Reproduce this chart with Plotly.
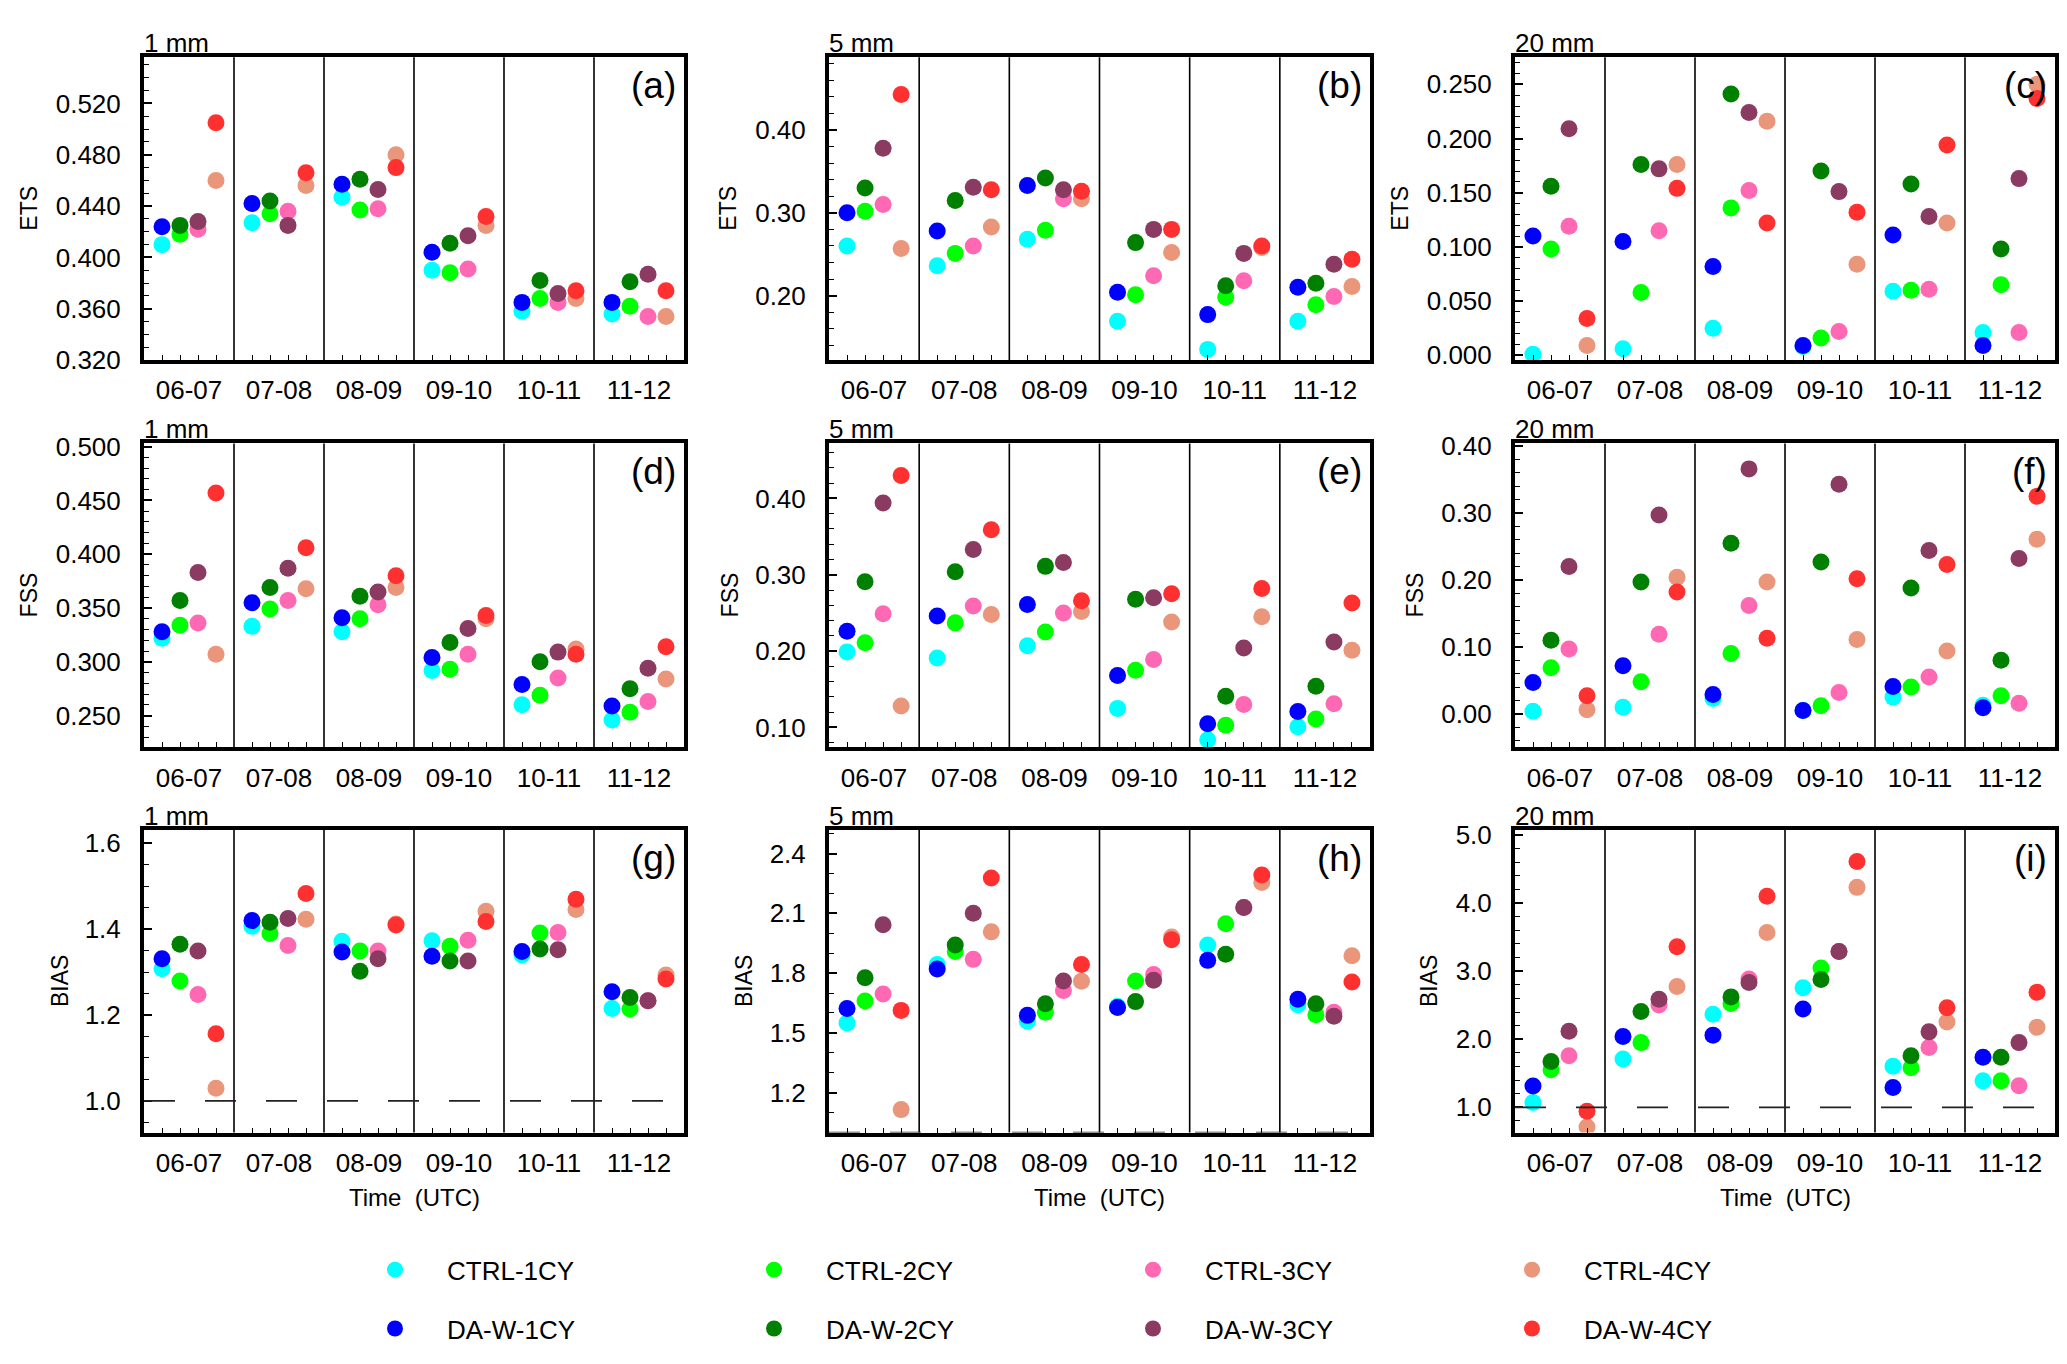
import plotly.graph_objects as go
from plotly.subplots import make_subplots

W, H = 2067, 1364

periods = ["06-07", "07-08", "08-09", "09-10", "10-11", "11-12"]
series = ["CTRL-1CY", "CTRL-2CY", "CTRL-3CY", "CTRL-4CY",
          "DA-W-1CY", "DA-W-2CY", "DA-W-3CY", "DA-W-4CY"]
colors = ["#00FFFF", "#00FF00", "#FF69B4", "#E9967A",
          "#0000FF", "#008000", "#8B3A62", "#FF3030"]

# ETS, 1 mm
ets_1mm = {
    "CTRL-1CY": [0.410, 0.427, 0.447, 0.390, 0.358, 0.356],
    "CTRL-2CY": [0.418, 0.434, 0.437, 0.388, 0.368, 0.362],
    "CTRL-3CY": [0.422, 0.436, 0.438, 0.391, 0.365, 0.354],
    "CTRL-4CY": [0.460, 0.456, 0.480, 0.425, 0.368, 0.354],
    "DA-W-1CY": [0.424, 0.442, 0.457, 0.404, 0.365, 0.365],
    "DA-W-2CY": [0.425, 0.444, 0.461, 0.411, 0.382, 0.381],
    "DA-W-3CY": [0.428, 0.425, 0.453, 0.417, 0.372, 0.387],
    "DA-W-4CY": [0.505, 0.466, 0.470, 0.432, 0.374, 0.374],
}
# ETS, 5 mm
ets_5mm = {
    "CTRL-1CY": [0.260, 0.236, 0.268, 0.169, 0.135, 0.169],
    "CTRL-2CY": [0.302, 0.251, 0.279, 0.201, 0.198, 0.189],
    "CTRL-3CY": [0.310, 0.260, 0.317, 0.224, 0.218, 0.199],
    "CTRL-4CY": [0.257, 0.283, 0.317, 0.252, 0.258, 0.211],
    "DA-W-1CY": [0.300, 0.278, 0.333, 0.204, 0.177, 0.210],
    "DA-W-2CY": [0.330, 0.315, 0.342, 0.264, 0.212, 0.215],
    "DA-W-3CY": [0.378, 0.331, 0.328, 0.280, 0.251, 0.238],
    "DA-W-4CY": [0.443, 0.328, 0.326, 0.280, 0.260, 0.244],
}
# ETS, 20 mm
ets_20mm = {
    "CTRL-1CY": [0.001, 0.006, 0.025, 0.008, 0.059, 0.021],
    "CTRL-2CY": [0.098, 0.058, 0.136, 0.016, 0.060, 0.065],
    "CTRL-3CY": [0.119, 0.115, 0.152, 0.022, 0.061, 0.021],
    "CTRL-4CY": [0.009, 0.176, 0.216, 0.084, 0.122, 0.250],
    "DA-W-1CY": [0.110, 0.105, 0.082, 0.009, 0.111, 0.009],
    "DA-W-2CY": [0.156, 0.176, 0.241, 0.170, 0.158, 0.098],
    "DA-W-3CY": [0.209, 0.172, 0.224, 0.151, 0.128, 0.163],
    "DA-W-4CY": [0.034, 0.154, 0.122, 0.132, 0.194, 0.237],
}
# FSS, 1 mm
fss_1mm = {
    "CTRL-1CY": [0.322, 0.333, 0.328, 0.292, 0.260, 0.246],
    "CTRL-2CY": [0.334, 0.349, 0.340, 0.293, 0.269, 0.253],
    "CTRL-3CY": [0.336, 0.357, 0.353, 0.307, 0.285, 0.263],
    "CTRL-4CY": [0.307, 0.368, 0.369, 0.340, 0.312, 0.284],
    "DA-W-1CY": [0.328, 0.355, 0.341, 0.304, 0.279, 0.259],
    "DA-W-2CY": [0.357, 0.369, 0.361, 0.318, 0.300, 0.275],
    "DA-W-3CY": [0.383, 0.387, 0.365, 0.331, 0.309, 0.294],
    "DA-W-4CY": [0.457, 0.406, 0.380, 0.343, 0.307, 0.314],
}
# FSS, 5 mm
fss_5mm = {
    "CTRL-1CY": [0.199, 0.191, 0.207, 0.125, 0.084, 0.101],
    "CTRL-2CY": [0.211, 0.237, 0.225, 0.175, 0.103, 0.111],
    "CTRL-3CY": [0.249, 0.259, 0.250, 0.189, 0.130, 0.131],
    "CTRL-4CY": [0.128, 0.248, 0.252, 0.238, 0.245, 0.201],
    "DA-W-1CY": [0.226, 0.246, 0.261, 0.168, 0.105, 0.121],
    "DA-W-2CY": [0.291, 0.304, 0.311, 0.268, 0.141, 0.154],
    "DA-W-3CY": [0.394, 0.333, 0.316, 0.270, 0.204, 0.212],
    "DA-W-4CY": [0.430, 0.359, 0.266, 0.275, 0.282, 0.263],
}
# FSS, 20 mm
fss_20mm = {
    "CTRL-1CY": [0.004, 0.010, 0.023, 0.005, 0.025, 0.013],
    "CTRL-2CY": [0.069, 0.048, 0.090, 0.012, 0.040, 0.027],
    "CTRL-3CY": [0.097, 0.119, 0.162, 0.032, 0.055, 0.016],
    "CTRL-4CY": [0.006, 0.204, 0.197, 0.111, 0.094, 0.261],
    "DA-W-1CY": [0.047, 0.072, 0.029, 0.005, 0.041, 0.009],
    "DA-W-2CY": [0.110, 0.197, 0.255, 0.227, 0.188, 0.080],
    "DA-W-3CY": [0.220, 0.297, 0.366, 0.343, 0.244, 0.232],
    "DA-W-4CY": [0.027, 0.182, 0.113, 0.202, 0.223, 0.325],
}
# BIAS, 1 mm
bias_1mm = {
    "CTRL-1CY": [1.308, 1.407, 1.372, 1.373, 1.340, 1.215],
    "CTRL-2CY": [1.279, 1.390, 1.349, 1.360, 1.391, 1.214],
    "CTRL-3CY": [1.248, 1.362, 1.349, 1.374, 1.392, 1.233],
    "CTRL-4CY": [1.029, 1.423, 1.412, 1.442, 1.446, 1.293],
    "DA-W-1CY": [1.331, 1.420, 1.347, 1.337, 1.348, 1.254],
    "DA-W-2CY": [1.365, 1.416, 1.302, 1.326, 1.354, 1.241],
    "DA-W-3CY": [1.349, 1.425, 1.331, 1.326, 1.352, 1.233],
    "DA-W-4CY": [1.156, 1.483, 1.410, 1.418, 1.470, 1.284],
}
# BIAS, 5 mm
bias_5mm = {
    "CTRL-1CY": [1.550, 1.843, 1.558, 1.632, 1.941, 1.641],
    "CTRL-2CY": [1.660, 1.909, 1.604, 1.761, 2.048, 1.591],
    "CTRL-3CY": [1.695, 1.869, 1.713, 1.793, 2.129, 1.604],
    "CTRL-4CY": [1.115, 2.007, 1.759, 1.981, 2.255, 1.887],
    "DA-W-1CY": [1.622, 1.821, 1.588, 1.627, 1.864, 1.669],
    "DA-W-2CY": [1.777, 1.941, 1.646, 1.657, 1.895, 1.646],
    "DA-W-3CY": [2.043, 2.101, 1.761, 1.764, 2.129, 1.583],
    "DA-W-4CY": [1.613, 2.277, 1.843, 1.968, 2.292, 1.756],
}
# BIAS, 20 mm
bias_20mm = {
    "CTRL-1CY": [1.072, 1.711, 2.369, 2.758, 1.605, 1.389],
    "CTRL-2CY": [1.552, 1.951, 2.527, 3.046, 1.581, 1.389],
    "CTRL-3CY": [1.759, 2.503, 2.887, 3.290, 1.879, 1.317],
    "CTRL-4CY": [0.712, 2.777, 3.569, 4.232, 2.253, 2.176],
    "DA-W-1CY": [1.312, 2.042, 2.061, 2.445, 1.293, 1.735],
    "DA-W-2CY": [1.672, 2.407, 2.623, 2.878, 1.759, 1.735],
    "DA-W-3CY": [2.119, 2.589, 2.834, 3.291, 2.109, 1.951],
    "DA-W-4CY": [0.942, 3.358, 4.102, 4.611, 2.465, 2.690],
}

FONT = "Liberation Sans, Arial, sans-serif"

# data, y range, major step, minor step, format, y label, threshold, letter, y label x (px)
panels = [
    (ets_1mm,   [0.320, 0.556], 0.04, 0.01, ".3f", "ETS",  "1 mm",  "(a)", 21),
    (ets_5mm,   [0.122, 0.488], 0.10, 0.02, ".2f", "ETS",  "5 mm",  "(b)", 720),
    (ets_20mm,  [-0.0045, 0.275], 0.05, 0.01, ".3f", "ETS", "20 mm", "(c)", 1392),
    (fss_1mm,   [0.2205, 0.503], 0.05, 0.01, ".3f", "FSS",  "1 mm",  "(d)", 21),
    (fss_5mm,   [0.074, 0.472], 0.10, 0.02, ".2f", "FSS",  "5 mm",  "(e)", 722),
    (fss_20mm,  [-0.05, 0.404], 0.10, 0.02, ".2f", "FSS",  "20 mm", "(f)", 1407),
    (bias_1mm,  [0.926, 1.632], 0.2, 0.05, ".1f", "BIAS", "1 mm",  "(g)", 52),
    (bias_5mm,  [1.0, 2.52],    0.3, 0.1,  ".1f", "BIAS", "5 mm",  "(h)", 736),
    (bias_20mm, [0.63, 5.08],   1.0, 0.2,  ".1f", "BIAS", "20 mm", "(i)", 1421),
]

col_px = [(136, 676), (821, 1362), (1507, 2047)]
row_px = [(38, 347), (432, 742), (826, 1135)]

fig = make_subplots(rows=3, cols=3)

# four slots inside each period: 1CY, 2CY, 3CY, 4CY
slot = {s: (i % 4) for i, s in enumerate(series)}
point_ticks = [g + 0.2 * (k + 1) for g in range(len(periods)) for k in range(4)]

for p, (data, yr, dt, mdt, fmt, ylab, thr, letter, ylab_x) in enumerate(panels):
    r, c = p // 3 + 1, p % 3 + 1
    x0, x1 = col_px[c - 1]
    y0, y1 = row_px[r - 1]

    for name, color in zip(series, colors):
        xs = [g + 0.2 * (slot[name] + 1) for g in range(len(periods))]
        fig.add_trace(go.Scatter(
            x=xs, y=data[name], mode="markers", name=name,
            marker=dict(size=17, color=color),
            legend="legend" if name.startswith("CTRL") else "legend2",
            showlegend=(p == 0), hovertemplate=name + ": %{y}<extra></extra>",
        ), row=r, col=c)

    fig.update_xaxes(
        domain=[x0 / W, x1 / W], range=[0, 6],
        tickvals=[g + 0.5 for g in range(6)], ticktext=periods,
        ticks="", tickangle=0, showgrid=False, zeroline=False,
        showline=True, linewidth=4, linecolor="black", mirror=True,
        tickfont=dict(size=26, family=FONT, color="black"),
        ticklabelstandoff=4,
        minor=dict(tickvals=point_ticks, ticks="inside", ticklen=5,
                   tickwidth=1.3, tickcolor="black", showgrid=False),
        row=r, col=c)
    fig.update_yaxes(
        domain=[1 - y1 / H, 1 - y0 / H], range=yr, tick0=0, dtick=dt,
        tickformat=fmt, ticks="inside", ticklen=8, tickwidth=1.5,
        tickcolor="black", showgrid=False, zeroline=False,
        showline=True, linewidth=4, linecolor="black", mirror=True,
        tickfont=dict(size=26, family=FONT, color="black"),
        ticklabelstandoff=14,
        minor=dict(dtick=mdt, tick0=0, ticks="inside", ticklen=5,
                   tickwidth=1.3, tickcolor="black", showgrid=False),
        row=r, col=c)

    sub = fig.get_subplot(r, c)
    xref = sub.xaxis.plotly_name.replace("axis", "")
    yref = sub.yaxis.plotly_name.replace("axis", "")

    # separators between periods
    for g in range(1, 6):
        fig.add_shape(type="line", xref=xref, yref=yref + " domain",
                      x0=g, x1=g, y0=0, y1=1, layer="below",
                      line=dict(color="black", width=1.6))
    # BIAS = 1 reference line
    if ylab == "BIAS":
        fig.add_shape(type="line", xref=xref + " domain", yref=yref,
                      x0=0, x1=1, y0=1.0, y1=1.0, layer="above",
                      line=dict(color="#222222", width=1.8, dash="31px,30px"))

    fig.add_annotation(text=letter, xref="paper", yref="paper",
                       x=(x1 - 6) / W, y=1 - (y0 + 6) / H,
                       xanchor="right", yanchor="top", showarrow=False,
                       font=dict(size=37, family=FONT, color="black"))
    fig.add_annotation(text=thr, xref="paper", yref="paper",
                       x=(x0 - 2) / W, y=1 - (y0 + 3) / H,
                       xanchor="left", yanchor="bottom", showarrow=False,
                       font=dict(size=26, family=FONT, color="black"))
    fig.add_annotation(text=ylab, xref="paper", yref="paper",
                       x=ylab_x / W, y=1 - (y0 + y1) / 2 / H, textangle=-90,
                       xanchor="center", yanchor="middle", showarrow=False,
                       font=dict(size=23, family=FONT, color="black"))
    if r == 3:
        fig.add_annotation(text="Time  (UTC)", xref="paper", yref="paper",
                           x=(x0 + x1) / 2 / W, y=1 - 1201 / H,
                           xanchor="center", yanchor="middle", showarrow=False,
                           font=dict(size=24, family=FONT, color="black"))

legend_style = dict(
    orientation="h", xanchor="left", yanchor="middle",
    x=335 / W, itemwidth=94, entrywidth=270, entrywidthmode="pixels",
    font=dict(size=26, family=FONT, color="black"),
    bgcolor="rgba(0,0,0,0)",
)
fig.update_layout(
    width=W, height=H,
    paper_bgcolor="white", plot_bgcolor="white",
    margin=dict(l=0, r=0, t=0, b=0),
    legend=dict(y=1 - 1275 / H, **legend_style),
    legend2=dict(y=1 - 1335 / H, **legend_style),
    font=dict(family=FONT, color="black"),
)

fig.write_html("out.html")
